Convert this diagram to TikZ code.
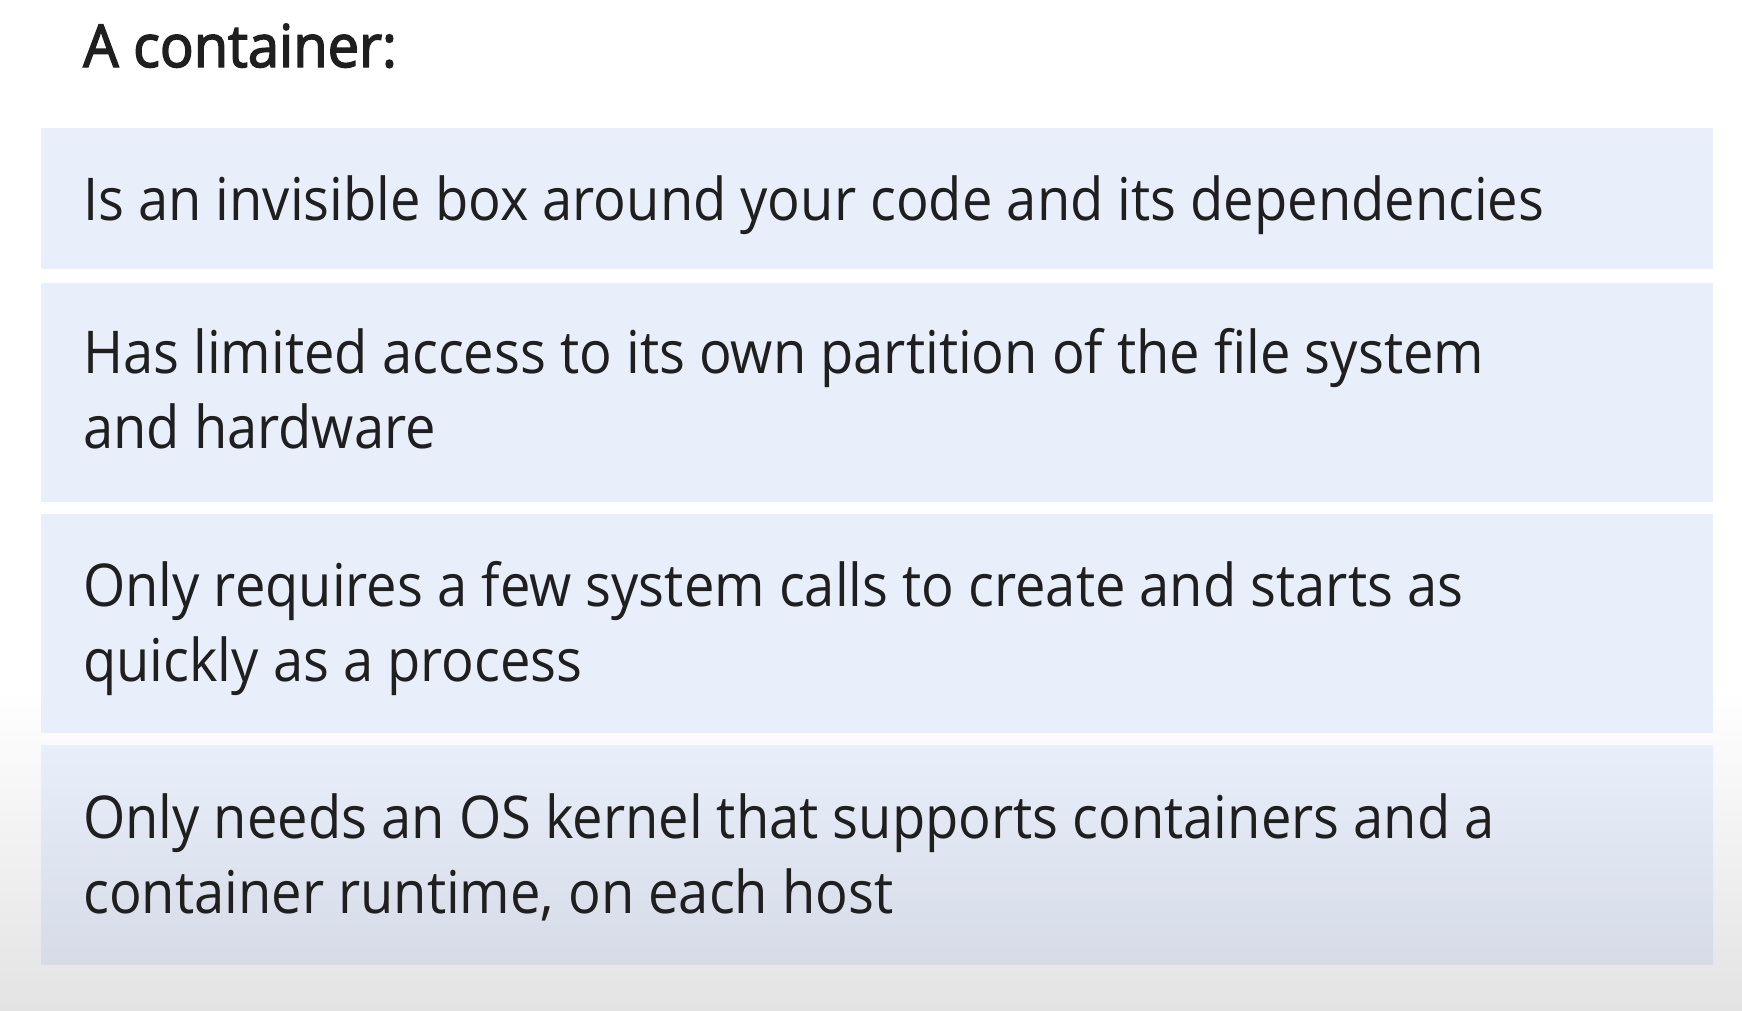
\documentclass[tikz,border=0pt]{standalone}
\usepackage{fontspec}
\setmainfont{Open Sans}[FakeStretch=0.92]
\newfontfamily\titlefont{Open Sans}[FakeStretch=0.95,FakeBold=2.5]
\usetikzlibrary{positioning,calc}
\definecolor{boxblue}{HTML}{E8EEFA}
\definecolor{boxgray}{HTML}{D6DBE7}
\definecolor{inkdark}{HTML}{1F1F1F}
\definecolor{bandgray}{HTML}{E3E3E3}
\begin{document}
\begin{tikzpicture}[x=1pt,y=-1pt,
		box/.style={minimum width=1672pt,inner sep=0pt,fill=boxblue},
		txt/.style={anchor=base west,inner sep=0pt,align=left,text=inkdark,font=\fontsize{59}{75}\selectfont}]
		\useasboundingbox (0,0) rectangle (1742,1010);
		\fill[white] (0,0) rectangle (1742,690);
		\shade[top color=white,bottom color=bandgray] (0,690) rectangle (1742,1010);
		
		\node[txt,font=\titlefont\fontsize{59}{75}\selectfont] (title) at (83,67) {A container:};
		
		\node[box,minimum height=141pt,anchor=north west] (b1) at (41,128) {};
		\node[box,minimum height=219pt,below=13pt of b1] (b2) {};
		\node[box,minimum height=219pt,below=12pt of b2] (b3) {};
		\node[box,minimum height=219pt,below=12pt of b3,top color=boxblue,bottom color=boxgray] (b4) {};
		
		% two-line texts sit on their last baseline
		\node[txt] (t1) at ($(b1.north west)+(42,92)$) {Is an invisible box around your code and its dependencies};
		\node[txt] (t2) at ($(b2.north west)+(42,166)$) {Has limited access to its own partition of the file system\\and hardware};
		\node[txt] (t3) at ($(b3.north west)+(42,168)$) {Only requires a few system calls to create and starts as\\quickly as a process};
		\node[txt] (t4) at ($(b4.north west)+(42,168)$) {Only needs an OS kernel that supports containers and a\\container runtime, on each host};
	\end{tikzpicture}
\end{document}
